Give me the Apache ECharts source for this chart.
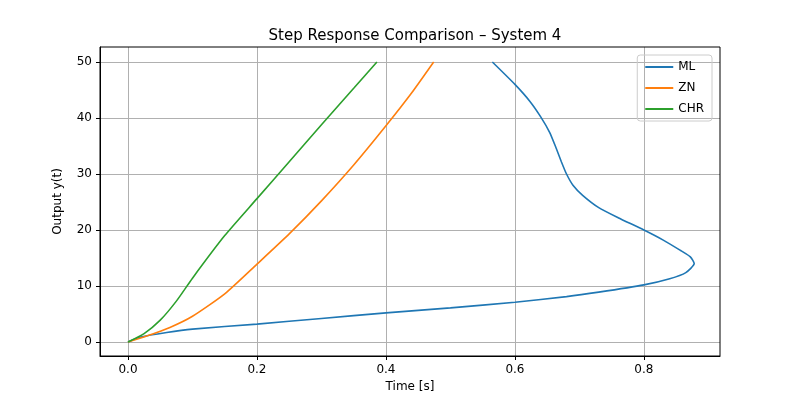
<!DOCTYPE html>
<html><head><meta charset="utf-8">
<script src="https://cdn.jsdelivr.net/npm/echarts@6/dist/echarts.min.js"></script>
<style>html,body{margin:0;padding:0;background:#fff}#c{width:800px;height:400px}</style>
</head><body><div id="c"></div>
<script>
const xTicks = [0, 0.2, 0.4, 0.6, 0.8];
const yTicks = [0, 10, 20, 30, 40, 50];
const mlData = [[0,0],[0.02,0.9],[0.06,1.7],[0.1,2.3],[0.2,3.2],[0.3,4.2],[0.4,5.2],[0.5,6.1],[0.6,7.1],[0.68,8.1],[0.73,8.9],[0.8,10.2],[0.84,11.3],[0.865,12.4],[0.878,14.0],[0.872,15.2],[0.856,16.4],[0.83,18.2],[0.8,20],[0.76,22.2],[0.73,24],[0.705,26.2],[0.69,28],[0.68,30],[0.672,32.2],[0.664,34.6],[0.654,37.4],[0.64,40.2],[0.623,43],[0.6,46],[0.565,50]];
const znData = [[0,0],[0.03,1.1],[0.065,2.6],[0.1,4.6],[0.15,8.6],[0.2,13.9],[0.25,19.3],[0.3,25.2],[0.35,31.6],[0.4,38.6],[0.44,44.5],[0.474,50]];
const chrData = [[0,0],[0.025,1.5],[0.05,3.9],[0.075,7.3],[0.1,11.4],[0.15,19.0],[0.2,25.6],[0.25,32.2],[0.3,38.8],[0.35,45.3],[0.386,50]];
const chart = echarts.init(document.getElementById('c'));
const font = 'DejaVu Sans';
const mk = (name, data, color) => ({name, type:'line', data, showSymbol:false, smooth:0.2, lineStyle:{width:1.6,color}, itemStyle:{color}});
chart.setOption({
  animation:false,
  textStyle:{fontFamily:font},
  title:{text:'Step Response Comparison – System 4', left:410, top:24, textAlign:'center', textStyle:{fontFamily:font,fontWeight:'normal',fontSize:15,color:'#000'}},
  grid:{left:100, right:80, top:47, bottom:44},
  graphic:[{type:'rect', z:100, silent:true, shape:{x:100,y:47,width:620,height:309}, style:{fill:'none',stroke:'#000',lineWidth:1}}],
  legend:{right:88, top:55, orient:'vertical', itemWidth:28, itemHeight:2, itemGap:9, icon:'rect',
    borderColor:'#ccc', borderWidth:1, borderRadius:3, padding:[6,8,6,8],
    textStyle:{fontFamily:font,fontSize:12,color:'#000'}},
  xAxis:{type:'value', min:-0.0434, max:0.918, name:'Time [s]', nameLocation:'middle', nameGap:24,
    nameTextStyle:{fontFamily:font,fontSize:12,color:'#000'},
    axisLine:{onZero:false,lineStyle:{color:'#000'}}, axisTick:{show:true,length:4,customValues:xTicks},
    axisLabel:{customValues:xTicks, color:'#000', fontSize:12, formatter:v=>v.toFixed(1)},
    splitLine:{show:true, lineStyle:{color:'#b0b0b0'}, customValues:xTicks}},
  yAxis:{type:'value', min:-2.5, max:52.68, name:'Output y(t)', nameLocation:'middle', nameGap:36,
    nameTextStyle:{fontFamily:font,fontSize:12,color:'#000'},
    axisLine:{show:true,onZero:false,lineStyle:{color:'#000'}}, axisTick:{show:true,length:4,customValues:yTicks},
    axisLabel:{customValues:yTicks, color:'#000', fontSize:12},
    splitLine:{show:true, lineStyle:{color:'#b0b0b0'}, customValues:yTicks}},
  series:[mk('ML',mlData,'#1f77b4'), mk('ZN',znData,'#ff7f0e'), mk('CHR',chrData,'#2ca02c')]
});
</script></body></html>
